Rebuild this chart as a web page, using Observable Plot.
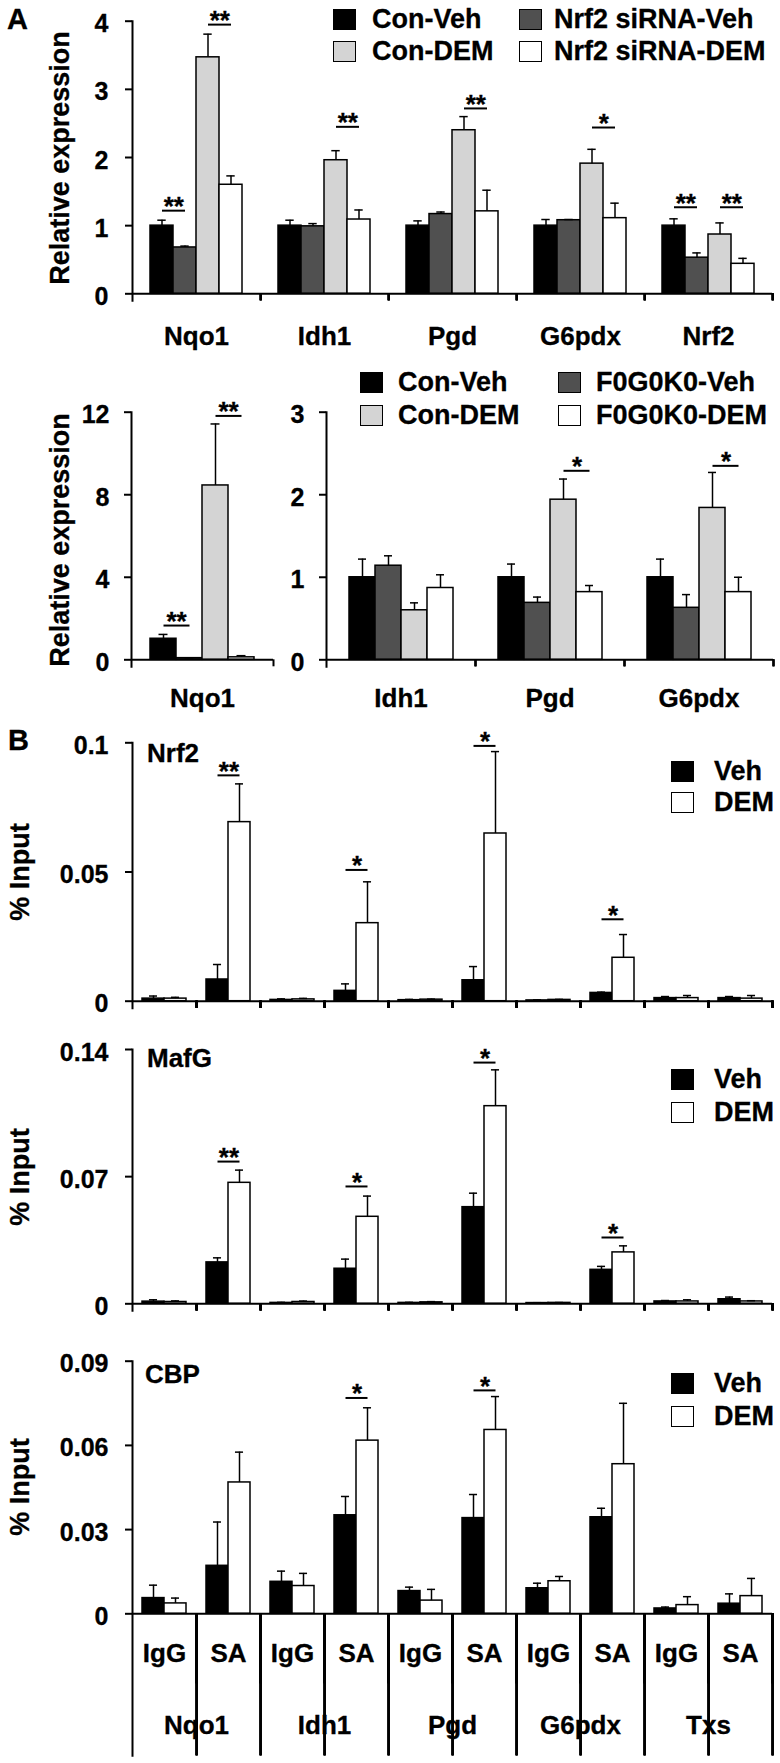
<!DOCTYPE html>
<html>
<head>
<meta charset="utf-8">
<script src="https://cdn.jsdelivr.net/npm/d3@7"></script>
<script src="https://cdn.jsdelivr.net/npm/@observablehq/plot@0.6"></script>
<style>
  html, body { margin: 0; padding: 0; background: #fff; }
  #fig { position: relative; width: 780px; height: 1763px; overflow: hidden;
         font-family: "Liberation Sans", Arial, Helvetica, sans-serif; font-weight: bold; color: #000;
         -webkit-text-stroke: 0.3px #000; }
  #fig svg text { stroke: #000; stroke-width: 0.3px; }
</style>
</head>
<body>
<div id="fig"></div>
<script>
// ---------------- DATA ----------------
// Panel A, top: Nrf2 siRNA
const a1Genes = ["Nqo1", "Idh1", "Pgd", "G6pdx", "Nrf2"];
const a1Series = ["Con-Veh", "Nrf2 siRNA-Veh", "Con-DEM", "Nrf2 siRNA-DEM"];
const a1ConVeh   = [1.00, 1.00, 1.00, 1.00, 1.00];
const a1SiVeh    = [0.68, 0.99, 1.17, 1.08, 0.53];
const a1ConDEM   = [3.47, 1.96, 2.40, 1.91, 0.87];
const a1SiDEM    = [1.60, 1.09, 1.21, 1.11, 0.44];
const a1ConVehSE = [0.08, 0.08, 0.07, 0.09, 0.10];
const a1SiVehSE  = [0.02, 0.04, 0.03, 0.01, 0.07];
const a1ConDEMSE = [0.34, 0.14, 0.20, 0.21, 0.17];
const a1SiDEMSE  = [0.13, 0.14, 0.31, 0.22, 0.08];
const a1Ticks = [0, 1, 2, 3, 4];
const a1SigGene = ["Nqo1", "Nqo1", "Idh1", "Pgd", "G6pdx", "Nrf2", "Nrf2"];
const a1SigFrom = ["Con-Veh", "Con-DEM", "Con-DEM", "Con-DEM", "Con-DEM", "Con-Veh", "Con-DEM"];
const a1SigTo   = ["Nrf2 siRNA-Veh", "Nrf2 siRNA-DEM", "Nrf2 siRNA-DEM", "Nrf2 siRNA-DEM", "Nrf2 siRNA-DEM", "Nrf2 siRNA-Veh", "Nrf2 siRNA-DEM"];
const a1SigY    = [1.22, 3.95, 2.45, 2.72, 2.44, 1.27, 1.27];
const a1SigMark = ["**", "**", "**", "**", "*", "**", "**"];

// Panel A, bottom: F0G0K0
const a2GenesLeft = ["Nqo1"];
const a2GenesRight = ["Idh1", "Pgd", "G6pdx"];
const a2Series = ["Con-Veh", "F0G0K0-Veh", "Con-DEM", "F0G0K0-DEM"];
const a2LeftConVeh = [1.02], a2LeftKoVeh = [0.08], a2LeftConDEM = [8.45], a2LeftKoDEM = [0.12];
const a2LeftConVehSE = [0.21], a2LeftKoVehSE = [0.02], a2LeftConDEMSE = [2.98], a2LeftKoDEMSE = [0.08];
const a2RightConVeh = [1.00, 1.00, 1.00];
const a2RightKoVeh  = [1.14, 0.69, 0.63];
const a2RightConDEM = [0.60, 1.94, 1.84];
const a2RightKoDEM  = [0.87, 0.82, 0.82];
const a2RightConVehSE = [0.22, 0.16, 0.22];
const a2RightKoVehSE  = [0.12, 0.07, 0.16];
const a2RightConDEMSE = [0.09, 0.25, 0.43];
const a2RightKoDEMSE  = [0.16, 0.08, 0.18];
const a2LeftTicks = [0, 4, 8, 12];
const a2RightTicks = [0, 1, 2, 3];
const a2LeftSigFrom = ["Con-Veh", "Con-DEM"];
const a2LeftSigTo = ["F0G0K0-Veh", "F0G0K0-DEM"];
const a2LeftSigY = [1.66, 11.82];
const a2LeftSigMark = ["**", "**"];
const a2RightSigGene = ["Pgd", "G6pdx"];
const a2RightSigY = [2.29, 2.35];
const a2RightSigMark = ["*", "*"];

// Panel B: ChIP, % input (order: Nqo1 IgG, Nqo1 SA, Idh1 IgG, Idh1 SA, ...)
const bGenes = ["Nqo1", "Idh1", "Pgd", "G6pdx", "Txs"];
const bAntibodies = ["IgG", "SA"];
const bTreatments = ["Veh", "DEM"];
const nrf2Veh   = [0.0010, 0.0084, 0.0005, 0.0040, 0.0004, 0.0081, 0.0003, 0.0032, 0.0012, 0.0012];
const nrf2VehSE = [0.0010, 0.0058, 0.0004, 0.0027, 0.0003, 0.0053, 0.0002, 0.0003, 0.0006, 0.0006];
const nrf2DEM   = [0.0010, 0.0693, 0.0007, 0.0302, 0.0006, 0.0649, 0.0005, 0.0168, 0.0012, 0.0010];
const nrf2DEMSE = [0.0005, 0.0148, 0.0004, 0.0160, 0.0002, 0.0317, 0.0002, 0.0090, 0.0010, 0.0012];
const nrf2Ticks = [0, 0.05, 0.1];
const nrf2SigKey = ["Nqo1|SA", "Idh1|SA", "Pgd|SA", "G6pdx|SA"];
const nrf2SigY = [0.0874, 0.0508, 0.0988, 0.0317];
const nrf2SigMark = ["**", "*", "*", "*"];

const mafgVeh   = [0.0012, 0.0228, 0.0005, 0.0193, 0.0005, 0.0532, 0.0004, 0.0187, 0.0013, 0.0025];
const mafgVehSE = [0.0010, 0.0025, 0.0003, 0.0053, 0.0003, 0.0077, 0.0002, 0.0019, 0.0005, 0.0012];
const mafgDEM   = [0.0010, 0.0666, 0.0010, 0.0479, 0.0008, 0.1088, 0.0005, 0.0283, 0.0013, 0.0013];
const mafgDEMSE = [0.0006, 0.0070, 0.0005, 0.0114, 0.0004, 0.0200, 0.0002, 0.0036, 0.0009, 0.0004];
const mafgTicks = [0, 0.07, 0.14];
const mafgSigKey = ["Nqo1|SA", "Idh1|SA", "Pgd|SA", "G6pdx|SA"];
const mafgSigY = [0.0783, 0.0646, 0.1328, 0.0365];
const mafgSigMark = ["**", "*", "*", "*"];

const cbpVeh   = [0.0056, 0.0171, 0.0114, 0.0351, 0.0081, 0.0341, 0.0091, 0.0344, 0.0019, 0.0036];
const cbpVehSE = [0.0046, 0.0156, 0.0038, 0.0067, 0.0014, 0.0084, 0.0018, 0.0032, 0.0005, 0.0035];
const cbpDEM   = [0.0037, 0.0468, 0.0099, 0.0617, 0.0047, 0.0655, 0.0116, 0.0533, 0.0031, 0.0063];
const cbpDEMSE = [0.0019, 0.0108, 0.0045, 0.0117, 0.0040, 0.0119, 0.0017, 0.0217, 0.0030, 0.0063];
const cbpTicks = [0, 0.03, 0.06, 0.09];
const cbpSigKey = ["Idh1|SA", "Pgd|SA"];
const cbpSigY = [0.0769, 0.0796];
const cbpSigMark = ["*", "*"];

// ---------------- STYLE ----------------
const FONT = '"Liberation Sans", Arial, Helvetica, sans-serif';
const fourColors = ["#000000", "#505050", "#d4d4d4", "#ffffff"];
const twoColors = ["#000000", "#ffffff"];

// ---------------- BUILD ROWS ----------------
function groupRows(genes, series, means, ses) {
  const rows = [];
  genes.forEach((g, i) => series.forEach((s, k) => rows.push({fx: g, x: s, v: means[k][i], e: ses[k][i]})));
  return rows;
}
const bKeys = bGenes.flatMap(g => bAntibodies.map(a => g + "|" + a));
function chipRows(veh, vehSE, dem, demSE) {
  const rows = [];
  bKeys.forEach((key, i) => {
    rows.push({fx: key, x: bTreatments[0], v: veh[i], e: vehSE[i]});
    rows.push({fx: key, x: bTreatments[1], v: dem[i], e: demSE[i]});
  });
  return rows;
}
function sigRows(keys, from, to, ys, marks) {
  return keys.map((k, i) => ({fx: k, a: from[i], b: to[i], y: ys[i], t: marks[i]}));
}

const a1Rows = groupRows(a1Genes, a1Series, [a1ConVeh, a1SiVeh, a1ConDEM, a1SiDEM], [a1ConVehSE, a1SiVehSE, a1ConDEMSE, a1SiDEMSE]);
const a1Sig = sigRows(a1SigGene, a1SigFrom, a1SigTo, a1SigY, a1SigMark);
const a2LeftRows = groupRows(a2GenesLeft, a2Series, [a2LeftConVeh, a2LeftKoVeh, a2LeftConDEM, a2LeftKoDEM], [a2LeftConVehSE, a2LeftKoVehSE, a2LeftConDEMSE, a2LeftKoDEMSE]);
const a2LeftSig = sigRows(a2LeftSigFrom.map(() => a2GenesLeft[0]), a2LeftSigFrom, a2LeftSigTo, a2LeftSigY, a2LeftSigMark);
const a2RightRows = groupRows(a2GenesRight, a2Series, [a2RightConVeh, a2RightKoVeh, a2RightConDEM, a2RightKoDEM], [a2RightConVehSE, a2RightKoVehSE, a2RightConDEMSE, a2RightKoDEMSE]);
const a2RightSig = sigRows(a2RightSigGene, a2RightSigGene.map(() => a2Series[2]), a2RightSigGene.map(() => a2Series[3]), a2RightSigY, a2RightSigMark);
const nrf2Rows = chipRows(nrf2Veh, nrf2VehSE, nrf2DEM, nrf2DEMSE);
const nrf2Sig = sigRows(nrf2SigKey, nrf2SigKey.map(() => "Veh"), nrf2SigKey.map(() => "DEM"), nrf2SigY, nrf2SigMark);
const mafgRows = chipRows(mafgVeh, mafgVehSE, mafgDEM, mafgDEMSE);
const mafgSig = sigRows(mafgSigKey, mafgSigKey.map(() => "Veh"), mafgSigKey.map(() => "DEM"), mafgSigY, mafgSigMark);
const cbpRows = chipRows(cbpVeh, cbpVehSE, cbpDEM, cbpDEMSE);
const cbpSig = sigRows(cbpSigKey, cbpSigKey.map(() => "Veh"), cbpSigKey.map(() => "DEM"), cbpSigY, cbpSigMark);

// ---------------- HELPERS ----------------
const fig = document.getElementById("fig");
function place(node, left, top) {
  node.style.position = "absolute";
  node.style.left = left + "px";
  node.style.top = top + "px";
  fig.appendChild(node);
}
function addText(txt, left, cy, size) {
  const d = document.createElement("div");
  d.textContent = txt;
  d.style.fontSize = size + "px";
  d.style.lineHeight = size + "px";
  d.style.whiteSpace = "nowrap";
  place(d, left, cy - size / 2);
}
function addYLabel(txt, cx, cy, size) {
  const d = document.createElement("div");
  d.textContent = txt;
  d.style.fontSize = size + "px";
  d.style.lineHeight = size + "px";
  d.style.whiteSpace = "nowrap";
  d.style.transform = "translate(-50%,-50%) rotate(-90deg)";
  place(d, cx, cy);
}
function addSwatch(color, left, cy) {
  const d = document.createElement("div");
  d.style.width = "23px";
  d.style.height = "21px";
  d.style.background = color;
  d.style.border = "1.5px solid #000";
  d.style.boxSizing = "border-box";
  place(d, left, cy - 10.5);
}

function chart(L) {
  const fxStep = (L.rightX - L.axisX) / L.fxDomain.length;
  const bw = fxStep / (L.xDomain.length + 2 * L.padOuter);
  const capInset = (bw - 9) / 2;
  const marks = [
    Plot.barY(L.rows, {fx: "fx", x: "x", y: "v", fill: "x", stroke: "#000", strokeWidth: 1.5}),
    Plot.ruleX(L.rows, {fx: "fx", x: "x", y1: d => d.v, y2: d => d.v + d.e, stroke: "#000", strokeWidth: 1.5}),
    Plot.tickY(L.rows, {fx: "fx", x: "x", y: d => d.v + d.e, insetLeft: capInset, insetRight: capInset, stroke: "#000", strokeWidth: 1.5}),
    Plot.ruleY([0], {stroke: "#000", strokeWidth: 2}),
    Plot.frame({anchor: "left", facetAnchor: "left", stroke: "#000", strokeWidth: 2, insetBottom: -L.leftTick}),
    Plot.axisY(L.ticks, {anchor: "left", tickSize: 7, tickFormat: () => "", strokeWidth: 2, label: null}),
    Plot.axisY(L.ticks, {anchor: "left", tickSize: 0, tickPadding: 7 + L.tickPad, dy: 3, fontSize: 25, fontWeight: "bold",
                         tickFormat: d => String(d), label: null}),
    Plot.link(L.sig, {fx: "fx", x1: "a", x2: "b", y1: "y", y2: "y", stroke: "#000", strokeWidth: 2}),
    Plot.text(L.sig, {fx: "fx", x: "a", y: "y", text: "t", dx: bw / 2, dy: -4, lineAnchor: "middle",
                      fontSize: 26, fontWeight: "bold"})
  ];
  for (const b of L.bounds) {
    marks.push(Plot.axisFx(b.keys, {anchor: "bottom", tickSize: b.size, tickFormat: () => "", dx: fxStep / 2,
                                    strokeWidth: 2, label: null}));
  }
  if (L.labelPad != null) {
    marks.push(Plot.axisFx({anchor: "bottom", tickSize: 0, tickPadding: L.labelPad, fontSize: 26, fontWeight: "bold",
                            tickFormat: L.labelFormat || (d => d), label: null}));
  }
  if (L.extra) marks.push(...L.extra);
  const svg = Plot.plot({
    width: L.width,
    height: L.height,
    marginLeft: L.axisX - L.left,
    marginRight: L.left + L.width - L.rightX,
    marginTop: L.topY - L.top,
    marginBottom: L.top + L.height - L.zeroY,
    style: {fontFamily: FONT, overflow: "visible", background: "none", color: "#000"},
    fx: {domain: L.fxDomain, padding: 0, axis: null, label: null},
    x: {domain: L.xDomain, paddingInner: 0, paddingOuter: L.padOuter, axis: null},
    y: {domain: [0, L.ticks[L.ticks.length - 1]], axis: null},
    color: {domain: L.xDomain, range: L.colors},
    marks
  });
  place(svg, L.left, L.top);
}

// ---------------- PANELS ----------------
chart({
  rows: a1Rows, sig: a1Sig, fxDomain: a1Genes, xDomain: a1Series, colors: fourColors, ticks: a1Ticks,
  left: 0, top: 0, width: 780, height: 362,
  axisX: 131, rightX: 773, topY: 20.7, zeroY: 293.3, padOuter: 0.72, tickPad: 17,
  leftTick: 7, bounds: [{keys: a1Genes, size: 7}], labelPad: 33
});
chart({
  rows: a2LeftRows, sig: a2LeftSig, fxDomain: a2GenesLeft, xDomain: a2Series, colors: fourColors, ticks: a2LeftTicks,
  left: 0, top: 370, width: 290, height: 350,
  axisX: 131, rightX: 273, topY: 411.7, zeroY: 659.3, padOuter: 0.73, tickPad: 15,
  leftTick: 7, bounds: [{keys: a2GenesLeft, size: 7}], labelPad: 29
});
chart({
  rows: a2RightRows, sig: a2RightSig, fxDomain: a2GenesRight, xDomain: a2Series, colors: fourColors, ticks: a2RightTicks,
  left: 280, top: 370, width: 500, height: 350,
  axisX: 326, rightX: 773, topY: 411.7, zeroY: 659.3, padOuter: 0.76, tickPad: 15,
  leftTick: 7, bounds: [{keys: a2GenesRight, size: 7}], labelPad: 29
});
chart({
  rows: nrf2Rows, sig: nrf2Sig, fxDomain: bKeys, xDomain: bTreatments, colors: twoColors, ticks: nrf2Ticks,
  left: 0, top: 715, width: 780, height: 300,
  axisX: 131, rightX: 773, topY: 742.3, zeroY: 1000.7, padOuter: 0.4, tickPad: 17,
  leftTick: 7, bounds: [{keys: bKeys, size: 7}]
});
chart({
  rows: mafgRows, sig: mafgSig, fxDomain: bKeys, xDomain: bTreatments, colors: twoColors, ticks: mafgTicks,
  left: 0, top: 1020, width: 780, height: 300,
  axisX: 131, rightX: 773, topY: 1049, zeroY: 1303.3, padOuter: 0.4, tickPad: 17,
  leftTick: 7, bounds: [{keys: bKeys, size: 7}]
});
chart({
  rows: cbpRows, sig: cbpSig, fxDomain: bKeys, xDomain: bTreatments, colors: twoColors, ticks: cbpTicks,
  left: 0, top: 1330, width: 780, height: 433,
  axisX: 131, rightX: 773, topY: 1360.7, zeroY: 1613.3, padOuter: 0.4, tickPad: 17,
  leftTick: 142,
  bounds: [{keys: bKeys.filter(k => k.endsWith("|IgG")), size: 70}, {keys: bKeys.filter(k => k.endsWith("|SA")), size: 142}],
  labelPad: 30, labelFormat: d => d.split("|")[1],
  extra: [Plot.text(bGenes, {fx: d => d + "|" + bAntibodies[0], frameAnchor: "bottom-right", text: d => d,
                             textAnchor: "middle", lineAnchor: "top", dy: 102, fontSize: 26, fontWeight: "bold"})]
});

// ---------------- ANNOTATIONS ----------------
addText("A", 7, 19.5, 29);
addText("B", 8, 740, 29);
addYLabel("Relative expression", 60, 157.5, 27);
addYLabel("Relative expression", 60, 540, 27);
addYLabel("% Input", 20, 871.5, 27);
addYLabel("% Input", 20, 1177, 27);
addYLabel("% Input", 20, 1487, 27);
addText("Nrf2", 147, 752.5, 26);
addText("MafG", 147, 1058, 26);
addText("CBP", 145, 1374, 26);

// legends: column 1 = Con-Veh / Con-DEM, column 2 = knock-down Veh / DEM
function legend4(series, colors, sq1, tx1, sq2, tx2, cy1, cy2) {
  addSwatch(colors[0], sq1, cy1); addText(series[0], tx1, cy1, 27);
  addSwatch(colors[2], sq1, cy2); addText(series[2], tx1, cy2, 27);
  addSwatch(colors[1], sq2, cy1); addText(series[1], tx2, cy1, 27);
  addSwatch(colors[3], sq2, cy2); addText(series[3], tx2, cy2, 27);
}
legend4(a1Series, fourColors, 333, 372, 519, 554, 19, 51.5);
legend4(a2Series, fourColors, 360, 398, 558, 596, 382, 415.5);
function legend2(cy1, cy2) {
  addSwatch(twoColors[0], 671, cy1); addText(bTreatments[0], 714, cy1, 27);
  addSwatch(twoColors[1], 671, cy2); addText(bTreatments[1], 714, cy2, 27);
}
legend2(771, 802.5);
legend2(1079, 1112.5);
legend2(1383.5, 1416);
</script>
</body>
</html>
